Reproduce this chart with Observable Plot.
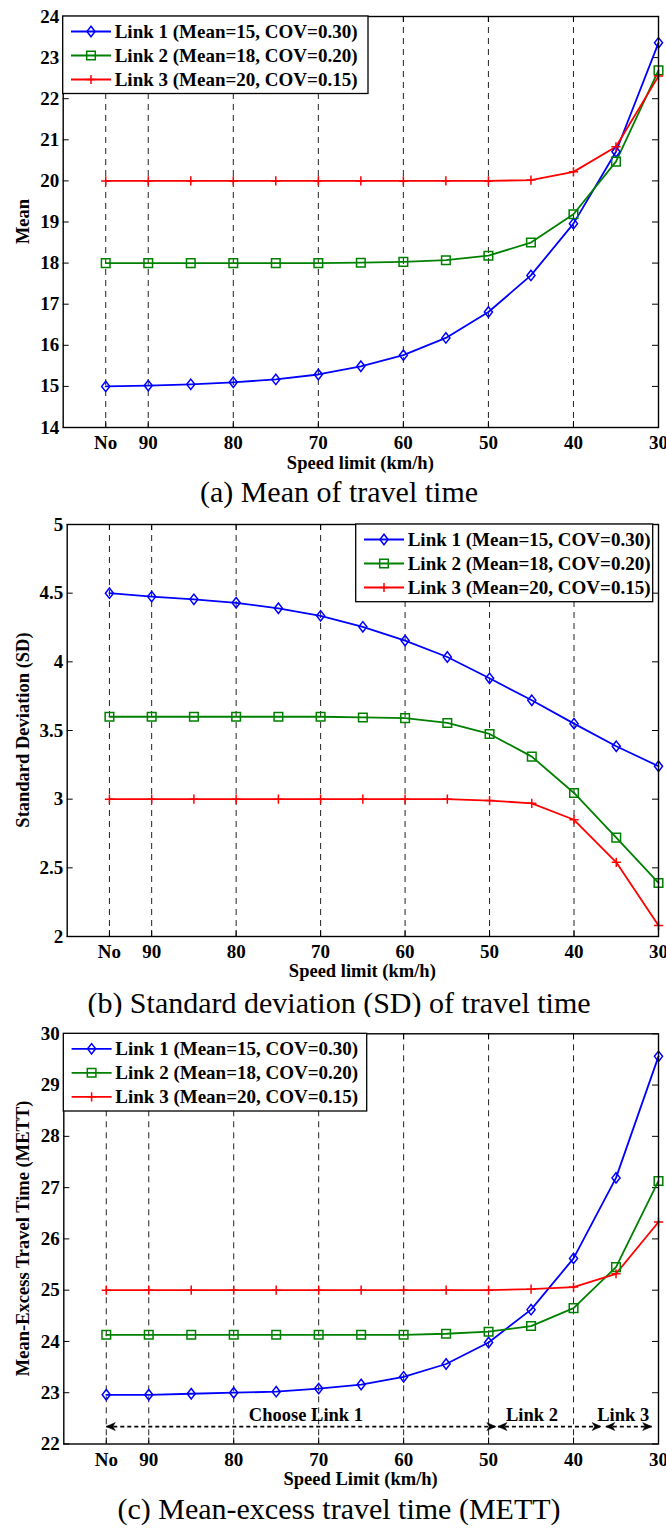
<!DOCTYPE html>
<html>
<head>
<meta charset="utf-8">
<script src="https://cdn.jsdelivr.net/npm/d3@7"></script>
<script src="https://cdn.jsdelivr.net/npm/@observablehq/plot@0.6"></script>
<style>
html, body { margin: 0; padding: 0; background: #fff; }
#wrap { position: relative; width: 666px; height: 1529px; overflow: hidden; background: #fff; }
#wrap svg { display: block; }
</style>
</head>
<body>
<div id="wrap"></div>
<script>
// ---------- data ----------
const speedLabels = ["No", "90", "85", "80", "75", "70", "65", "60", "55", "50", "45", "40", "35", "30"];
const xTickIdx = [0, 1, 3, 5, 7, 9, 11, 13];
const gridIdx = [0, 1, 3, 5, 7, 9, 11];
const seriesNames = ["Link 1 (Mean=15, COV=0.30)", "Link 2 (Mean=18, COV=0.20)", "Link 3 (Mean=20, COV=0.15)"];

const meanLink1 = [15.00, 15.02, 15.05, 15.10, 15.17, 15.29, 15.49, 15.76, 16.18, 16.81, 17.70, 18.96, 20.71, 23.36];
const meanLink2 = [18.00, 18.00, 18.00, 18.00, 18.00, 18.00, 18.01, 18.03, 18.07, 18.18, 18.50, 19.19, 20.47, 22.69];
const meanLink3 = [20.00, 20.00, 20.00, 20.00, 20.00, 20.00, 20.00, 20.00, 20.00, 20.00, 20.02, 20.22, 20.83, 22.55];
const meanTicks = [14, 15, 16, 17, 18, 19, 20, 21, 22, 23, 24];

const sdLink1 = [4.50, 4.475, 4.455, 4.43, 4.39, 4.335, 4.255, 4.155, 4.035, 3.88, 3.72, 3.55, 3.385, 3.24];
const sdLink2 = [3.60, 3.60, 3.60, 3.60, 3.60, 3.60, 3.595, 3.59, 3.555, 3.475, 3.31, 3.045, 2.72, 2.39];
const sdLink3 = [3.00, 3.00, 3.00, 3.00, 3.00, 3.00, 3.00, 3.00, 3.00, 2.99, 2.97, 2.85, 2.54, 2.08];
const sdTicks = [2, 2.5, 3, 3.5, 4, 4.5, 5];

const mettLink1 = [22.96, 22.96, 22.98, 23.00, 23.02, 23.08, 23.16, 23.31, 23.56, 23.98, 24.62, 25.62, 27.19, 29.56];
const mettLink2 = [24.13, 24.13, 24.13, 24.13, 24.13, 24.13, 24.13, 24.13, 24.15, 24.19, 24.30, 24.65, 25.45, 27.13];
const mettLink3 = [25.00, 25.00, 25.00, 25.00, 25.00, 25.00, 25.00, 25.00, 25.00, 25.00, 25.02, 25.06, 25.32, 26.33];
const mettTicks = [22, 23, 24, 25, 26, 27, 28, 29, 30];

// choice annotation (panel c), in x-index / METT units
const choiceLabels = ["Choose Link 1", "Link 2", "Link 3"];
const choiceStart = [0, 9.22, 11.76];
const choiceEnd = [9.17, 11.65, 12.84];
const choiceLabelX = [4.7, 10.02, 12.17];
const choiceArrowLevel = 22.34;
const choiceLabelLevel = 22.57;

// ---------- style ----------
const FONT = "'Liberation Serif', 'Times New Roman', Times, serif";
const colors = ["#0000ff", "#008000", "#ff0000"];

const diamondSym = { draw(ctx, size) { const r = Math.sqrt(size / Math.PI); const w = r * 0.78; ctx.moveTo(0, -r); ctx.lineTo(w, 0); ctx.lineTo(0, r); ctx.lineTo(-w, 0); ctx.closePath(); } };
const squareSym = { draw(ctx, size) { const r = Math.sqrt(size / Math.PI); ctx.moveTo(-r, -r); ctx.lineTo(r, -r); ctx.lineTo(r, r); ctx.lineTo(-r, r); ctx.closePath(); } };
const plusSym = { draw(ctx, size) { const r = Math.sqrt(size / Math.PI); ctx.moveTo(-r, 0); ctx.lineTo(r, 0); ctx.moveTo(0, -r); ctx.lineTo(0, r); } };
const headSym = { draw(ctx, size) { ctx.moveTo(0, 0); ctx.lineTo(-9, -4); ctx.lineTo(-6.5, 0); ctx.lineTo(-9, 4); ctx.closePath(); } };
const symbols = [diamondSym, squareSym, plusSym];
const radii = [5.2, 4.3, 4.6];

function buildPanel(cfg) {
  const [y0, y1] = cfg.yDomain;
  const marks = [
    Plot.ruleX(gridIdx, { x: d => d, stroke: "#222", strokeWidth: 1, strokeDasharray: "6,5" }),
    Plot.ruleX(xTickIdx, { x: d => d, y1: () => y0, y2: () => y0, insetTop: -6, stroke: "black" }),
    Plot.ruleX(xTickIdx, { x: d => d, y1: () => y1, y2: () => y1, insetBottom: -6, stroke: "black" }),
    Plot.ruleY(cfg.yTicks, { y: d => d, x1: () => -1, x2: () => -1, insetRight: -6, stroke: "black" }),
    Plot.ruleY(cfg.yTicks, { y: d => d, x1: () => 13, x2: () => 13, insetLeft: -6, stroke: "black" }),
    ...(cfg.extra || []),
    ...cfg.series.map((vals, k) => Plot.line(vals, { x: (d, i) => i, y: d => d, stroke: colors[k], strokeWidth: 1.8 })),
    ...cfg.series.map((vals, k) => Plot.dot(vals, { x: (d, i) => i, y: d => d, symbol: symbols[k], r: radii[k], stroke: colors[k], fill: "none", strokeWidth: 1.5 })),
    Plot.frame({ stroke: "black", strokeWidth: 1.4 }),
    Plot.axisX({ ticks: xTickIdx, tickFormat: i => speedLabels[i], tickSize: 0, tickPadding: 8, label: null, fontSize: 19, fontWeight: "bold" }),
    Plot.axisY({ ticks: cfg.yTicks, tickFormat: d => String(d), tickSize: 0, tickPadding: 4, label: null, fontSize: 19, fontWeight: "bold" })
  ];
  const chart = Plot.plot({
    width: 666,
    height: cfg.height,
    marginTop: cfg.mTop,
    marginBottom: cfg.mBottom,
    marginLeft: cfg.mLeft,
    marginRight: cfg.mRight,
    x: { domain: [-1, 13] },
    y: { domain: cfg.yDomain },
    style: { fontFamily: FONT, fontWeight: "bold", fontSize: "19px", color: "black", background: "white", overflow: "visible" },
    marks
  });
  const svg = d3.select(chart);
  const frameBottom = cfg.height - cfg.mBottom;
  const frameTop = cfg.mTop;
  // y title
  svg.append("text")
    .attr("transform", `translate(28.5,${(frameTop + frameBottom) / 2}) rotate(-90)`)
    .attr("text-anchor", "middle")
    .attr("font-family", FONT).attr("font-weight", "bold").attr("font-size", 18.5)
    .attr("fill", "black")
    .text(cfg.yTitle);
  // x title
  svg.append("text")
    .attr("x", (cfg.mLeft + 666 - cfg.mRight) / 2)
    .attr("y", frameBottom + cfg.xTitleOffset)
    .attr("text-anchor", "middle")
    .attr("font-family", FONT).attr("font-weight", "bold").attr("font-size", 18.5)
    .attr("fill", "black")
    .text(cfg.xTitle);
  // caption
  svg.append("text")
    .attr("x", 339)
    .attr("y", frameBottom + cfg.captionOffset)
    .attr("text-anchor", "middle")
    .attr("font-family", FONT).attr("font-weight", "normal").attr("font-size", 30)
    .attr("fill", "black")
    .text(cfg.caption);
  // legend
  const L = cfg.legend;
  const g = svg.append("g").attr("transform", `translate(${L.x},${L.y})`);
  g.append("rect").attr("width", L.w).attr("height", L.h)
    .attr("fill", "white").attr("stroke", "black").attr("stroke-width", 1.3);
  seriesNames.forEach((name, k) => {
    const cy = 15.5 + k * 24;
    g.append("line").attr("x1", 8.3).attr("x2", 48.3).attr("y1", cy).attr("y2", cy)
      .attr("stroke", colors[k]).attr("stroke-width", 1.8);
    g.append("path")
      .attr("d", d3.symbol(symbols[k], radii[k] * radii[k] * Math.PI)())
      .attr("transform", `translate(28.3,${cy})`)
      .attr("fill", "none").attr("stroke", colors[k]).attr("stroke-width", 1.5);
    g.append("text").attr("x", 52).attr("y", cy).attr("dy", "0.35em")
      .attr("text-anchor", "start")
      .attr("font-family", FONT).attr("font-weight", "bold").attr("font-size", 19)
      .attr("fill", "black")
      .text(name);
  });
  const holder = document.createElement("div");
  holder.style.position = "absolute";
  holder.style.left = "0px";
  holder.style.top = cfg.top + "px";
  holder.appendChild(chart);
  document.getElementById("wrap").appendChild(holder);
}

// panel (a)
buildPanel({
  top: 0, height: 508, mTop: 16, mBottom: 81, mLeft: 62.7, mRight: 8,
  yDomain: [14, 24], yTicks: meanTicks,
  series: [meanLink1, meanLink2, meanLink3],
  yTitle: "Mean", xTitle: "Speed limit (km/h)", caption: "(a) Mean of travel time",
  xTitleOffset: 42, captionOffset: 75,
  legend: { x: 62.7, y: 16, w: 305.3, h: 77.5 }
});

// panel (b)
buildPanel({
  top: 508, height: 509, mTop: 16, mBottom: 81, mLeft: 66.7, mRight: 8,
  yDomain: [2, 5], yTicks: sdTicks,
  series: [sdLink1, sdLink2, sdLink3],
  yTitle: "Standard Deviation (SD)", xTitle: "Speed limit (km/h)", caption: "(b) Standard deviation (SD) of travel time",
  xTitleOffset: 41, captionOffset: 77,
  legend: { x: 355.7, y: 16, w: 297, h: 77.7 }
});

// panel (c)
const choiceSegs = choiceLabels.map((t, k) => ({ s: choiceStart[k], e: choiceEnd[k] }));
const choiceHeads = choiceSegs.flatMap(d => [{ x: d.s, dir: 180 }, { x: d.e, dir: 0 }]);
buildPanel({
  top: 1017, height: 512, mTop: 16.3, mBottom: 85.5, mLeft: 63.3, mRight: 8,
  yDomain: [22, 30], yTicks: mettTicks,
  series: [mettLink1, mettLink2, mettLink3],
  yTitle: "Mean-Excess Travel Time (METT)", xTitle: "Speed Limit (km/h)", caption: "(c) Mean-excess travel time (METT)",
  xTitleOffset: 41.5, captionOffset: 75,
  legend: { x: 63.3, y: 16.3, w: 303.4, h: 77.7 },
  extra: [
    Plot.link(choiceSegs, { x1: "s", x2: "e", y1: () => choiceArrowLevel, y2: () => choiceArrowLevel, stroke: "black", strokeWidth: 1.7, strokeDasharray: "4,3" }),
    Plot.dot(choiceHeads, { x: "x", y: () => choiceArrowLevel, rotate: "dir", symbol: headSym, fill: "black", stroke: "black", strokeWidth: 0.5, r: 5 }),
    Plot.text(choiceLabels, { x: (d, i) => choiceLabelX[i], y: () => choiceLabelLevel, text: d => d, fontSize: 18.5, fontWeight: "bold", fontFamily: FONT, fill: "black" })
  ]
});
</script>
</body>
</html>
